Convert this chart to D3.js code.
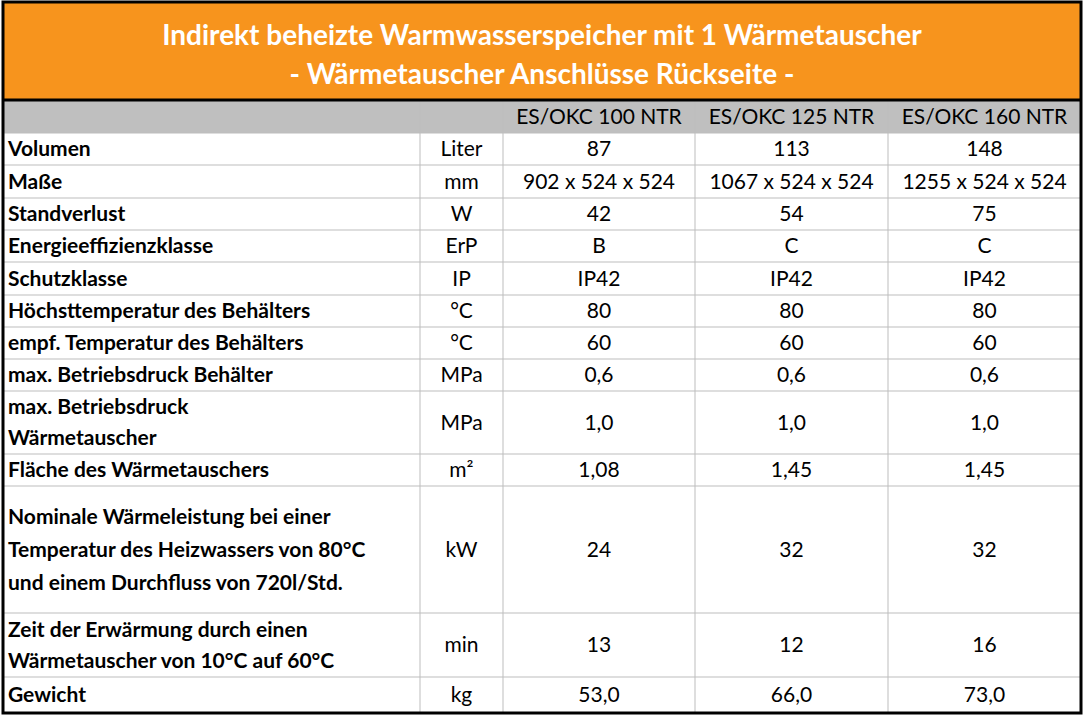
<!DOCTYPE html>
<html><head><meta charset="utf-8">
<script src="https://cdn.jsdelivr.net/npm/d3@7"></script>
<style>body{margin:0;background:#fff}text{font-family:Lato,"Open Sans",sans-serif}</style>
</head><body><svg id="c" width="1087" height="720"></svg>
<script>
const titleLines=["Indirekt beheizte Warmwasserspeicher mit 1 Wärmetauscher","- Wärmetauscher Anschlüsse Rückseite -"];
const models=["ES/OKC 100 NTR","ES/OKC 125 NTR","ES/OKC 160 NTR"];
const labels=[["Volumen"],["Maße"],["Standverlust"],["Energieeffizienzklasse"],["Schutzklasse"],["Höchsttemperatur des Behälters"],["empf. Temperatur des Behälters"],["max. Betriebsdruck Behälter"],["max. Betriebsdruck","Wärmetauscher"],["Fläche des Wärmetauschers"],["Nominale Wärmeleistung bei einer","Temperatur des Heizwassers von 80°C","und einem Durchfluss von 720l/Std."],["Zeit der Erwärmung durch einen","Wärmetauscher von 10°C auf 60°C"],["Gewicht"]];
const units=["Liter","mm","W","ErP","IP","°C","°C","MPa","MPa","m²","kW","min","kg"];
const col100=["87","902 x 524 x 524","42","B","IP42","80","60","0,6","1,0","1,08","24","13","53,0"];
const col125=["113","1067 x 524 x 524","54","C","IP42","80","60","0,6","1,0","1,45","32","12","66,0"];
const col160=["148","1255 x 524 x 524","75","C","IP42","80","60","0,6","1,0","1,45","32","16","73,0"];

const rowH=[32,33,32,32,33,32,32,32,63,32,127,64,36];
const colX=[3,420,503,695,888,1081];
const top0=101, headH=32, fs=21;
const svg=d3.select("#c");
svg.append("rect").attr("x",3).attr("y",2).attr("width",1078).attr("height",98).attr("fill","#F7941D");
titleLines.forEach((t,i)=>svg.append("text").attr("x",542).attr("y",45+i*39).attr("text-anchor","middle")
 .attr("font-size",28).attr("font-weight","bold").attr("fill","#fff").text(t));
svg.append("rect").attr("x",3).attr("y",top0).attr("width",1078).attr("height",headH).attr("fill","#BFBFBF");
const ys=[top0+headH]; rowH.forEach(h=>ys.push(ys[ys.length-1]+h));
const g=svg.append("g");
ys.concat([top0]).forEach(y=>g.append("line").attr("x1",3).attr("x2",1081).attr("y1",y).attr("y2",y).attr("stroke","#BDBDBD"));
colX.slice(1,-1).forEach(x=>g.append("line").attr("x1",x).attr("x2",x).attr("y1",top0).attr("y2",ys[ys.length-1]).attr("stroke","#BDBDBD"));
models.forEach((m,i)=>g.append("text").attr("x",(colX[i+2]+colX[i+3])/2).attr("y",top0+headH/2+7).attr("text-anchor","middle").attr("font-size",fs).text(m));
const cols=[col100,col125,col160];
labels.forEach((lab,r)=>{
  const yc=(ys[r]+ys[r+1])/2;
  const lh=rowH[r]>100?33:31;
  lab.forEach((l,k)=>g.append("text").attr("x",8).attr("y",yc+7+(k-(lab.length-1)/2)*lh).attr("font-size",fs).attr("font-weight","bold").text(l));
  g.append("text").attr("x",(colX[1]+colX[2])/2).attr("y",yc+7).attr("text-anchor","middle").attr("font-size",fs).text(units[r]);
  cols.forEach((c,i)=>g.append("text").attr("x",(colX[i+2]+colX[i+3])/2).attr("y",yc+7).attr("text-anchor","middle").attr("font-size",fs).text(c[r]));
});
svg.append("line").attr("x1",3).attr("x2",1081).attr("y1",100).attr("y2",100).attr("stroke","#000").attr("stroke-width",3);
svg.append("rect").attr("x",3).attr("y",2).attr("width",1078).attr("height",ys[ys.length-1]-2).attr("fill","none").attr("stroke","#000").attr("stroke-width",3);
</script></body></html>
